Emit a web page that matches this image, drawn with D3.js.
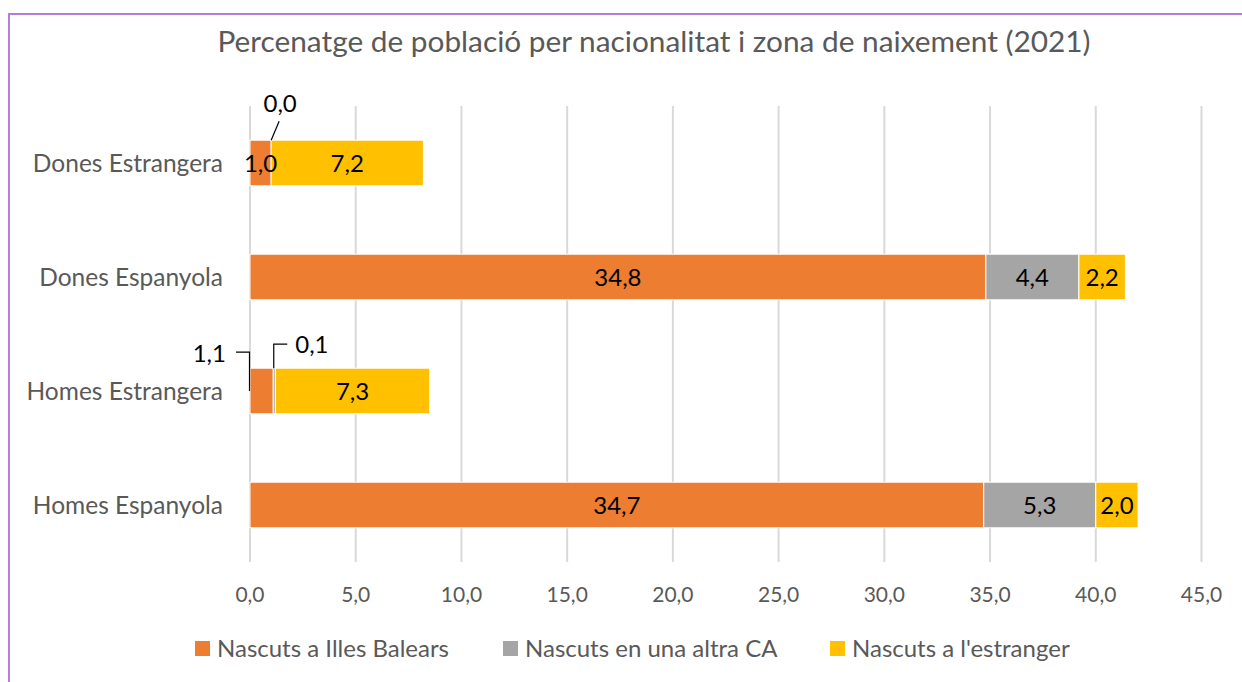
<!DOCTYPE html>
<html>
<head>
<meta charset="utf-8">
<script src="https://cdn.jsdelivr.net/npm/d3@7"></script>
<style>
  body { margin: 0; background: #fff; }
  svg { display: block; font-family: Lato, "Liberation Sans", sans-serif; }
</style>
</head>
<body>
<svg id="chart" width="1242" height="682"></svg>
<script>
const categories = ['Dones Estrangera', 'Dones Espanyola', 'Homes Estrangera', 'Homes Espanyola'];
const seriesNames = ['Nascuts a Illes Balears', 'Nascuts en una altra CA', "Nascuts a l'estranger"];
const balears = [1.0, 34.8, 1.1, 34.7];
const altraCA = [0.0, 4.4, 0.1, 5.3];
const estranger = [7.2, 2.2, 7.3, 2.0];
const ticks = [0, 5, 10, 15, 20, 25, 30, 35, 40, 45];
const colors = ['#ED7D31', '#A5A5A5', '#FFC000'];

const svg = d3.select('#chart');
const fmt = v => d3.format('.1f')(v).replace('.', ',');

// frame
svg.append('rect')
  .attr('x', 9).attr('y', 14)
  .attr('width', 1260).attr('height', 700)
  .attr('fill', 'none')
  .attr('stroke', '#B47EDE')
  .attr('stroke-width', 2);

svg.append('text')
  .attr('x', 654).attr('y', 52)
  .attr('text-anchor', 'middle')
  .style('font-size', '29.8px')
  .style('fill', '#595959')
  .text('Percenatge de població per nacionalitat i zona de naixement (2021)');

const x = d3.scaleLinear().domain([0, 45]).range([250, 1201.5]);
const y = d3.scaleBand().domain(categories).range([106, 562]).paddingInner(0.6).paddingOuter(0.3);

// gridlines
svg.append('g')
  .selectAll('line')
  .data(ticks)
  .join('line')
  .attr('x1', d => x(d)).attr('x2', d => x(d))
  .attr('y1', 106).attr('y2', 562)
  .attr('stroke', '#D9D9D9')
  .attr('stroke-width', 2);

// tick labels
svg.append('g')
  .selectAll('text')
  .data(ticks)
  .join('text')
  .attr('x', d => x(d)).attr('y', 602)
  .attr('text-anchor', 'middle')
  .style('font-size', '21px')
  .style('fill', '#595959')
  .text(d => fmt(d));

// category labels
svg.append('g')
  .selectAll('text')
  .data(categories)
  .join('text')
  .attr('x', 223)
  .attr('y', d => y(d) + y.bandwidth() / 2)
  .attr('dy', '0.35em')
  .attr('text-anchor', 'end')
  .style('font-size', '24.5px')
  .style('fill', '#595959')
  .text(d => d);

const rows = categories.map((c, i) => ({ cat: c, s0: balears[i], s1: altraCA[i], s2: estranger[i] }));
const stacked = d3.stack().keys(['s0', 's1', 's2'])(rows);

const layers = svg.append('g')
  .selectAll('g')
  .data(stacked)
  .join('g')
  .attr('fill', (d, i) => colors[i]);

layers.selectAll('rect')
  .data(d => d)
  .join('rect')
  .attr('x', d => x(d[0]))
  .attr('y', d => y(d.data.cat))
  .attr('width', d => x(d[1]) - x(d[0]))
  .attr('height', y.bandwidth())
  .attr('stroke', '#fff')
  .attr('stroke-width', 1);

// value labels
const labels = [];
stacked.forEach((layer, si) => {
  layer.forEach(d => {
    labels.push({ cat: d.data.cat, si: si, v: d[1] - d[0], x0: d[0], x1: d[1] });
  });
});

const inside = labels.filter(d => !((d.cat === 'Homes Estrangera' && d.si < 2) || (d.cat === 'Dones Estrangera' && d.si === 1)));
svg.append('g')
  .selectAll('text')
  .data(inside)
  .join('text')
  .attr('x', d => x((d.x0 + d.x1) / 2))
  .attr('y', d => y(d.cat) + y.bandwidth() / 2)
  .attr('dy', '0.36em')
  .attr('text-anchor', 'middle')
  .style('font-size', '24px')
  .style('fill', '#000')
  .text(d => fmt(d.v));

// small values with leader lines
const de = labels.find(d => d.cat === 'Dones Estrangera' && d.si === 1);
const hb = labels.find(d => d.cat === 'Homes Estrangera' && d.si === 0);
const hc = labels.find(d => d.cat === 'Homes Estrangera' && d.si === 1);
const lead = svg.append('g').attr('fill', 'none').attr('stroke', '#000').attr('stroke-width', 1.2);
const txt = svg.append('g').style('font-size', '24px').style('fill', '#000');

const yDE = y('Dones Estrangera');
lead.append('path').attr('d', `M${x(de.x1)},${yDE} L${x(de.x1) + 8},${yDE - 19}`);
txt.append('text').attr('x', x(de.x1) + 9).attr('y', yDE - 28).attr('text-anchor', 'middle').text(fmt(de.v));

const yHE = y('Homes Estrangera');
lead.append('path').attr('d', `M${x(hb.x0) - 0.5},${yHE + y.bandwidth() / 2} L${x(hb.x0) - 0.5},${yHE - 16} L${x(hb.x0) - 14},${yHE - 16}`);
txt.append('text').attr('x', x(hb.x0) - 24).attr('y', yHE - 6).attr('text-anchor', 'end').text(fmt(hb.v));

lead.append('path').attr('d', `M${x(hc.x0) + 0.5},${yHE} L${x(hc.x0) + 0.5},${yHE - 24} L${x(hc.x0) + 14},${yHE - 24}`);
txt.append('text').attr('x', x(hc.x0) + 22).attr('y', yHE - 15).attr('text-anchor', 'start').text(fmt(hc.v));

// legend
const legendX = [195, 503, 830];
const legend = svg.append('g')
  .selectAll('g')
  .data(seriesNames)
  .join('g')
  .attr('transform', (d, i) => `translate(${legendX[i]},641)`);
legend.append('rect').attr('width', 15).attr('height', 15).attr('fill', (d, i) => colors[i]);
legend.append('text')
  .attr('x', 22).attr('y', 16)
  .style('font-size', '24px')
  .style('fill', '#595959')
  .text(d => d);
</script>
</body>
</html>
